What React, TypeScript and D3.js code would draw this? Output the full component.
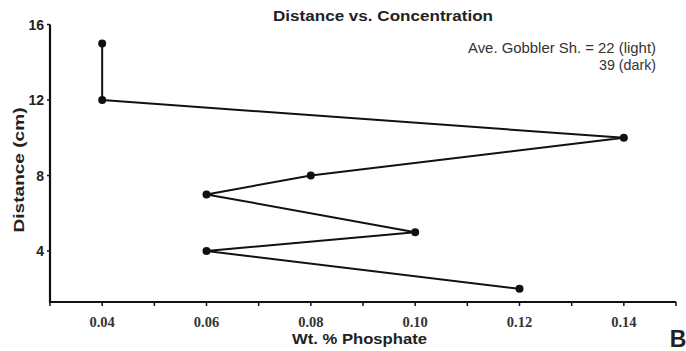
import { useMemo } from "react";
import * as d3 from "d3";

// ── Data ──────────────────────────────────────────────────────
const phosphate = [0.04, 0.04, 0.14, 0.08, 0.06, 0.1, 0.06, 0.12];
const distance = [15, 12, 10, 8, 7, 5, 4, 2];
const xTickValues = [0.03, 0.04, 0.05, 0.06, 0.07, 0.08, 0.09, 0.1, 0.11, 0.12, 0.13, 0.14, 0.15];
const xLabelValues = [0.04, 0.06, 0.08, 0.1, 0.12, 0.14];
const yTickValues = [4, 8, 12, 16];

const W = 686, H = 351;
const SANS = "'Liberation Sans', Arial, sans-serif";
const SERIF = "'Liberation Serif', 'Times New Roman', serif";

export default function App() {
  const x = useMemo(() => d3.scaleLinear().domain([0.03, 0.15]).range([50, 676]), []);
  const y = useMemo(() => d3.scaleLinear().domain([1.3, 16]).range([302, 24.5]), []);

  const pts = phosphate.map((p, i) => [p, distance[i]] as [number, number]);
  const line = d3.line<[number, number]>().x((d) => x(d[0])).y((d) => y(d[1]));

  const x0 = x.range()[0];
  const yBase = y.range()[0];

  return (
    <svg width={W} height={H} style={{ position: "absolute", left: 0, top: 0, background: "#fff" }}>
      {/* title + note */}
      <text x={383} y={21} textAnchor="middle" fontFamily={SANS} fontWeight="bold" fontSize={14.5}
        fill="#222" textLength={220} lengthAdjust="spacingAndGlyphs">
        Distance vs. Concentration
      </text>
      <text x={656} y={53} textAnchor="end" fontFamily={SANS} fontSize={14.5} fill="#333"
        textLength={188} lengthAdjust="spacingAndGlyphs">
        Ave. Gobbler Sh. = 22 (light)
      </text>
      <text x={656} y={70} textAnchor="end" fontFamily={SANS} fontSize={14.5} fill="#333"
        textLength={57} lengthAdjust="spacingAndGlyphs">
        39 (dark)
      </text>

      {/* y axis */}
      <line x1={x0} x2={x0} y1={y(16)} y2={yBase + 1} stroke="#111" strokeWidth={2.2} />
      {yTickValues.map((v) => (
        <g key={v}>
          <line x1={x0 - 3} x2={x0} y1={y(v)} y2={y(v)} stroke="#111" strokeWidth={1.5} />
          <text x={x0 - 6} y={y(v) + 5} textAnchor="end" fontFamily={SANS} fontWeight="bold" fontSize={14} fill="#222">
            {v}
          </text>
        </g>
      ))}
      <text
        transform={`translate(24,170) rotate(-90)`}
        textAnchor="middle" fontFamily={SANS} fontWeight="bold" fontSize={14} fill="#222"
        textLength={125} lengthAdjust="spacingAndGlyphs"
      >
        Distance (cm)
      </text>

      {/* x axis */}
      <line x1={x0 - 1} x2={x.range()[1]} y1={yBase} y2={yBase} stroke="#111" strokeWidth={2.2} />
      {xTickValues.map((v) => (
        <line key={v} x1={x(v)} x2={x(v)} y1={yBase} y2={yBase + 4} stroke="#111" strokeWidth={1.5} />
      ))}
      {xLabelValues.map((v) => (
        <text key={v} x={x(v)} y={yBase + 25} textAnchor="middle" fontFamily={SERIF} fontWeight="bold" fontSize={14.5} fill="#333">
          {v.toFixed(2)}
        </text>
      ))}
      <text x={359.5} y={344} textAnchor="middle" fontFamily={SANS} fontWeight="bold" fontSize={15} fill="#222"
        textLength={135} lengthAdjust="spacingAndGlyphs">
        Wt. % Phosphate
      </text>
      <text x={678} y={347} textAnchor="middle" fontFamily={SANS} fontWeight="bold" fontSize={23} fill="#222">
        B
      </text>

      {/* series */}
      <path d={line(pts) ?? ""} fill="none" stroke="#111" strokeWidth={2} strokeLinejoin="round" />
      {pts.map((d, i) => (
        <circle key={i} cx={x(d[0])} cy={y(d[1])} r={4} fill="#111" />
      ))}
    </svg>
  );
}
